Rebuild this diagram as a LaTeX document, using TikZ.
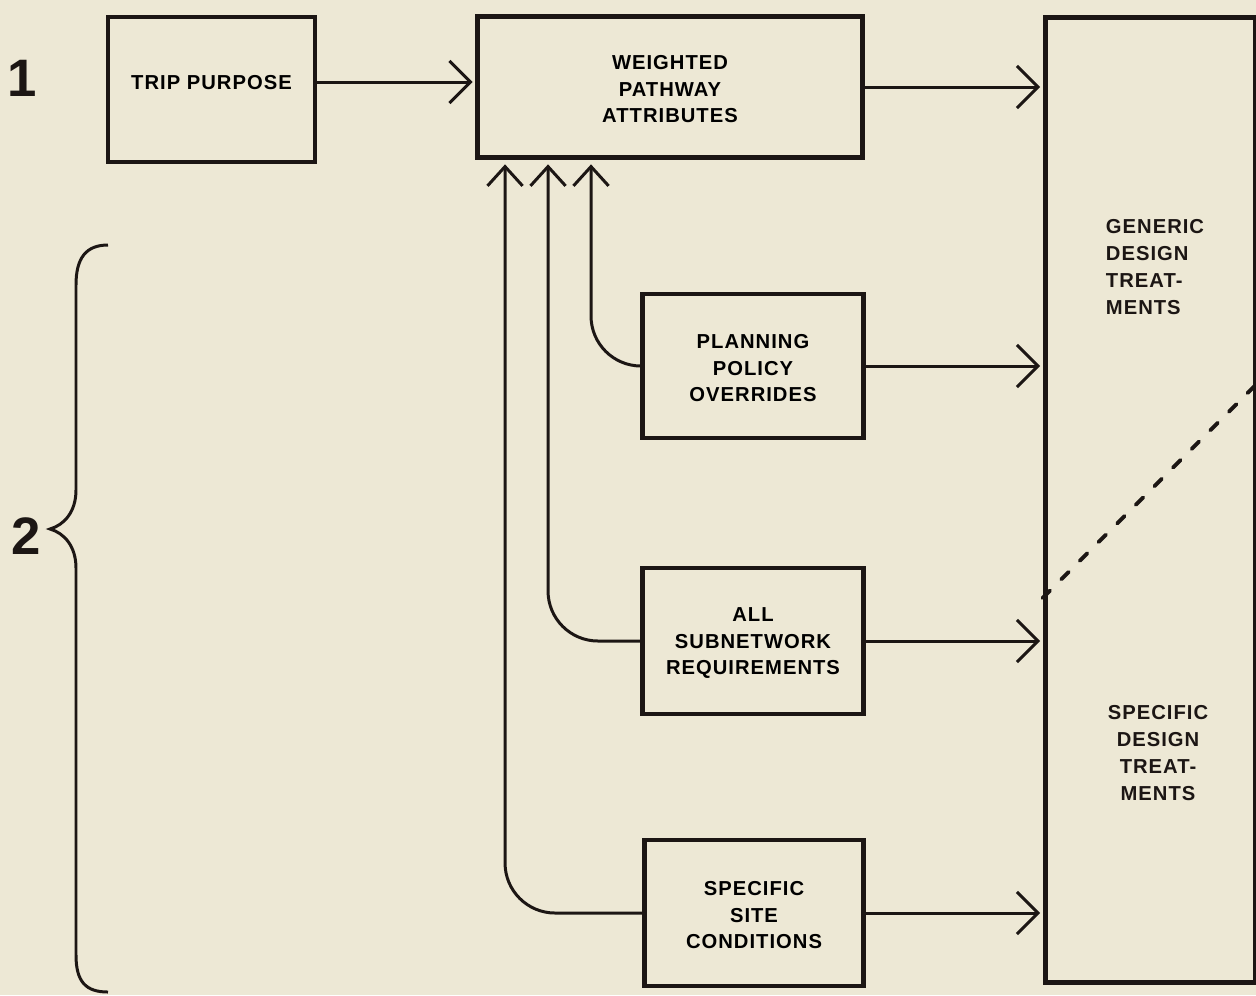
\documentclass[tikz,border=0pt]{standalone}
\usepackage{fontspec}
\setmainfont{Liberation Sans}
\newfontfamily\labelfont[LetterSpace=5]{Liberation Sans Bold}
\usetikzlibrary{arrows.meta}
\definecolor{paper}{RGB}{237,232,213}
\definecolor{ink}{RGB}{28,22,20}

\begin{document}
\begin{tikzpicture}[x=0.02cm, y=-0.02cm, >={Straight Barb[length=12pt,width=24pt]},
  box/.style={draw=ink, line width=2.8pt, inner sep=0pt, align=center,
    font=\labelfont\fontsize{11.5}{15}\selectfont},
  txt/.style={inner sep=0pt, text=ink, font=\labelfont\fontsize{11.5}{15.2}\selectfont},
  num/.style={inner sep=0pt, text=ink, font=\bfseries\fontsize{30}{30}\selectfont},
  link/.style={->, draw=ink, line width=1.7pt, shorten >=1.4pt},
  feed/.style={draw=ink, line width=1.7pt, rounded corners=1cm,
    -{Straight Barb[length=11pt,width=20pt]}, shorten >=2.5pt}]
  % page
  \useasboundingbox (0,0) rectangle (1256,995);
  \fill[paper] (0,0) rectangle (1256,995);
  \clip (0,0) rectangle (1256,995);

  % boxes
  \node[box, minimum width=4.14cm, minimum height=2.9cm] (trip) at (211.5,89.5)
    {\rule[-8.5pt]{0pt}{8.5pt}TRIP PURPOSE};
  \node[box, minimum width=7.7cm, minimum height=2.82cm] (wpa) at (670,87)
    {\strut WEIGHTED\\PATHWAY\\ATTRIBUTES};
  \node[box, minimum width=4.42cm, minimum height=2.88cm] (ppo) at (753,366)
    {\strut PLANNING\\POLICY\\OVERRIDES};
  \node[box, minimum width=4.42cm, minimum height=2.92cm] (asr) at (753,641)
    {\strut ALL\\SUBNETWORK\\REQUIREMENTS};
  \node[box, minimum width=4.38cm, minimum height=2.92cm] (ssc) at (754,913)
    {\strut SPECIFIC\\SITE\\CONDITIONS};
  \node[box, minimum width=4.2cm, minimum height=19.32cm] (treat) at (1150,500) {};

  % texts in the treatments box
  \node[txt, align=left] (generic) at (1155,267) {GENERIC\\DESIGN\\TREAT-\\MENTS};
  \node[txt, align=center] (specific) at (1158,753) {SPECIFIC\\DESIGN\\TREAT-\\MENTS};
  \draw[ink, line width=2.2pt, line cap=round, dash pattern=on 6pt off 9pt]
    ([yshift=-1.96cm]treat.west) -- ++(212,-212);

  % forward links
  \draw[link] ([yshift=0.15cm]trip.east) -- ([yshift=0.15cm]trip.east -| wpa.west);
  \draw[link] (wpa.east) -- (wpa.east -| treat.west);
  \draw[link] (ppo.east) -- (ppo.east -| treat.west);
  \draw[link] (asr.east) -- (asr.east -| treat.west);
  \draw[link] (ssc.east) -- (ssc.east -| treat.west);

  % feedback links
  \draw[feed] (ppo.west) -| ([xshift=-1.58cm]wpa.south);
  \draw[feed] (asr.west) -| ([xshift=-2.44cm]wpa.south);
  \draw[feed] (ssc.west) -| ([xshift=-3.3cm]wpa.south);

  % levels
  \node[num] (one) at (22,78) {1};
  \node[num] (two) at (26,536) {2};
  \draw[ink, line width=1.7pt] (108,245) .. controls (86,245) and (76,258) .. (76,285)
    -- (76,490) .. controls (76,512) and (64,525) .. (50,529)
    .. controls (64,533) and (76,546) .. (76,568)
    -- (76,955) .. controls (76,982) and (86,992) .. (108,992);
\end{tikzpicture}
\end{document}
